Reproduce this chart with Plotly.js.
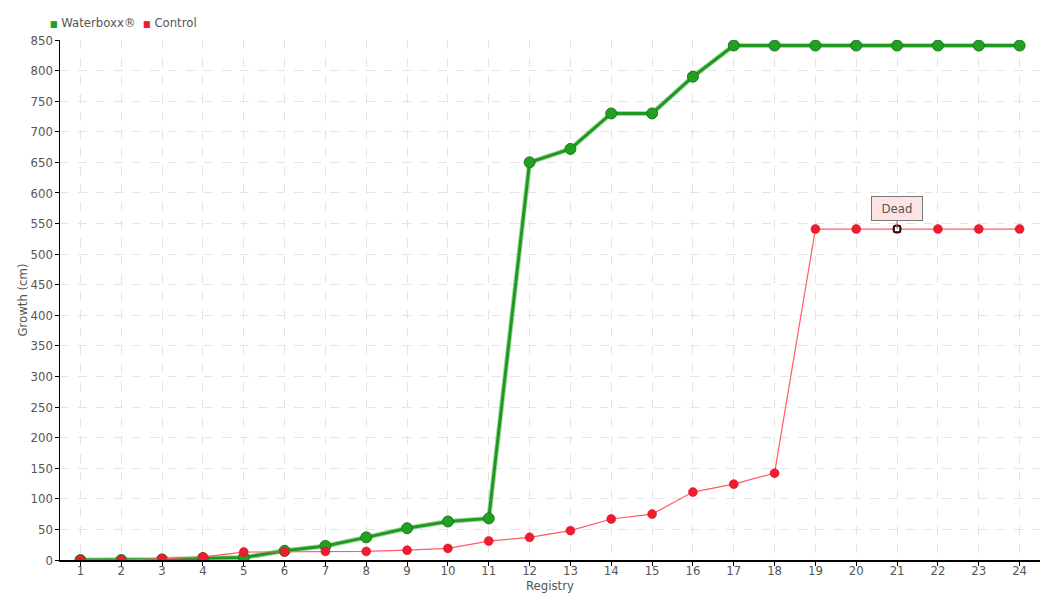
<!DOCTYPE html>
<html>
<head>
<meta charset="utf-8">
<script src="https://cdn.plot.ly/plotly-3.0.1.min.js"></script>
<style>html,body{margin:0;padding:0;background:#fff;}#chart{width:1060px;height:600px;}</style>
</head>
<body>
<div id="chart"></div>
<script>
const registry = [1,2,3,4,5,6,7,8,9,10,11,12,13,14,15,16,17,18,19,20,21,22,23,24];
const waterboxx = [0,0,1,3,4,15,23,37,52,63,68,650,672,730,730,790,841,841,841,841,841,841,841,841];
const control = [0,0,2,5,13,13,14,14,16,19,31,37,48,67,75,111,124,142,541,541,541,541,541,541];
const deadIndex = 20;
const deadLabel = 'Dead';
const seriesNames = ['Waterboxx®','Control'];

const FONT = '"DejaVu Sans Condensed", "Liberation Sans Narrow", "Open Sans", sans-serif';
const GREEN = '#1f9a1f';
const RED = '#ee1c2e';

const traces = [
  {x: registry, y: waterboxx, mode: 'lines', line: {color: 'rgba(60,170,60,0.45)', width: 5}, hoverinfo: 'skip', showlegend: false},
  {x: registry, y: waterboxx, mode: 'lines+markers', name: seriesNames[0], line: {color: GREEN, width: 3},
   marker: {color: '#22a022', size: 11, line: {color: '#1a7a1a', width: 1}}, showlegend: false},
  {x: registry, y: control, mode: 'lines+markers', name: seriesNames[1], line: {color: '#ff5a66', width: 1.2},
   marker: {color: RED, size: 9, line: {color: '#d01020', width: 0.5}}, showlegend: false},
  {x: [registry[deadIndex]], y: [control[deadIndex]], mode: 'markers', hoverinfo: 'skip', showlegend: false,
   marker: {symbol: 'square', color: '#ffffff', size: 6, line: {color: '#000', width: 1.5}}}
];

const layout = {
  width: 1060, height: 600,
  margin: {l: 60, r: 20, t: 40, b: 40},
  paper_bgcolor: '#fff', plot_bgcolor: '#fff',
  font: {family: FONT, size: 13, color: '#555'},
  showlegend: false,
  xaxis: {
    range: [0.5, 24.5], tickvals: registry, ticktext: registry.map(String),
    showgrid: true, gridcolor: '#e4e4e4', griddash: 'dash', gridwidth: 1,
    showline: true, linecolor: '#000', linewidth: 1.5,
    ticks: 'outside', ticklen: 4, tickcolor: '#000',
    ticklabelstandoff: -6,
    zeroline: false, fixedrange: true,
    tickfont: {family: FONT, size: 13, color: '#555'},
    title: {text: 'Registry', font: {family: FONT, size: 13, color: '#555'}, standoff: 0}
  },
  yaxis: {
    range: [0, 850], dtick: 50,
    showgrid: true, gridcolor: '#e4e4e4', griddash: 'dash', gridwidth: 1,
    showline: true, linecolor: '#000', linewidth: 1.5,
    ticks: 'outside', ticklen: 4, tickcolor: '#000',
    ticklabelstandoff: -1,
    zeroline: false, fixedrange: true,
    tickfont: {family: FONT, size: 13, color: '#555'},
    title: {text: 'Growth (cm)', font: {family: FONT, size: 13, color: '#555'}, standoff: 0}
  },
  annotations: [
    {x: registry[deadIndex], y: control[deadIndex], xref: 'x', yref: 'y', text: deadLabel,
     showarrow: true, arrowhead: 0, arrowwidth: 1, arrowcolor: '#777', ax: 0, ay: -21,
     bgcolor: '#fde4e4', bordercolor: '#777', borderwidth: 1, borderpad: 4, width: 42,
     font: {family: FONT, size: 13, color: '#555'}},
    {xref: 'paper', yref: 'paper', x: -0.012, y: 1.0, yshift: 18, xanchor: 'left', yanchor: 'middle', showarrow: false,
     text: '<span style="color:#22a022;font-size:9px">■</span> ' + seriesNames[0] +
           '  <span style="color:#ee1c2e;font-size:9px">■</span> ' + seriesNames[1],
     font: {family: FONT, size: 13, color: '#555'}}
  ]
};

Plotly.newPlot('chart', traces, layout, {displayModeBar: false, staticPlot: true});
</script>
</body>
</html>
